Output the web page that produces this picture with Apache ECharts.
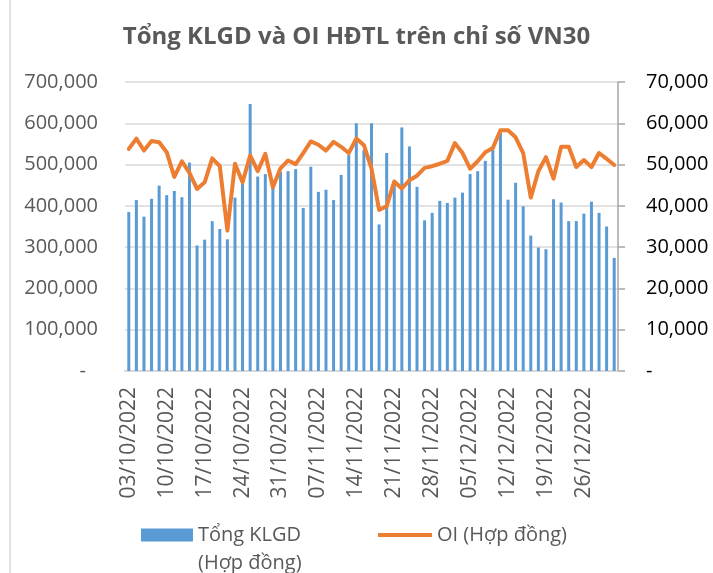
<!DOCTYPE html>
<html>
<head>
<meta charset="utf-8">
<script src="https://cdn.jsdelivr.net/npm/echarts@6/dist/echarts.min.js"></script>
<style>
html,body{margin:0;padding:0;background:#fff;}
#chart{width:713px;height:573px;}
</style>
</head>
<body>
<div id="chart"></div>
<script>
const titleText = 'Tổng KLGD và OI HĐTL trên chỉ số VN30';
const barName = 'Tổng KLGD (Hợp đồng)';
const lineName = 'OI (Hợp đồng)';

const dates = [
 '03/10/2022','04/10/2022','05/10/2022','06/10/2022','07/10/2022',
 '10/10/2022','11/10/2022','12/10/2022','13/10/2022','14/10/2022',
 '17/10/2022','18/10/2022','19/10/2022','20/10/2022','21/10/2022',
 '24/10/2022','25/10/2022','26/10/2022','27/10/2022','28/10/2022',
 '31/10/2022','01/11/2022','02/11/2022','03/11/2022','04/11/2022',
 '07/11/2022','08/11/2022','09/11/2022','10/11/2022','11/11/2022',
 '14/11/2022','15/11/2022','16/11/2022','17/11/2022','18/11/2022',
 '21/11/2022','22/11/2022','23/11/2022','24/11/2022','25/11/2022',
 '28/11/2022','29/11/2022','30/11/2022','01/12/2022','02/12/2022',
 '05/12/2022','06/12/2022','07/12/2022','08/12/2022','09/12/2022',
 '12/12/2022','13/12/2022','14/12/2022','15/12/2022','16/12/2022',
 '19/12/2022','20/12/2022','21/12/2022','22/12/2022','23/12/2022',
 '26/12/2022','27/12/2022','28/12/2022','29/12/2022','30/12/2022'
];

const klgd = [
 385000,414000,374000,417000,449000,
 426000,436000,421000,505000,304000,
 318000,363000,344000,319000,420000,
 454000,647000,471000,477000,445000,
 482000,484000,489000,395000,495000,
 434000,439000,414000,475000,523000,
 600000,535000,600000,355000,528000,
 460000,590000,544000,446000,365000,
 383000,412000,407000,420000,432000,
 477000,484000,509000,536000,577000,
 415000,456000,399000,328000,299000,
 295000,416000,408000,363000,363000,
 381000,410000,383000,350000,274000
];

const oi = [
 53800,56300,53400,55700,55400,
 53000,47000,50800,48000,44100,
 45700,51500,49600,34000,50200,
 45700,52200,48400,52600,44500,
 49100,51000,50100,52800,55600,
 54800,53400,55500,54300,52800,
 56300,54700,49000,39000,39900,
 45900,44200,46200,47300,49200,
 49600,50200,50900,55200,52800,
 49000,50800,53000,54000,58300,
 58300,56600,52800,42000,48400,
 51800,46600,54300,54300,49400,
 51100,49400,52800,51400,49900
];

const fmt = v => v === 0 ? '-' : v.toLocaleString('en-US');
const FONT = '"Open Sans", "Noto Sans", sans-serif';

const chart = echarts.init(document.getElementById('chart'), null, {renderer: 'canvas'});
chart.setOption({
  animation: false,
  backgroundColor: '#fff',
  title: {
    text: titleText,
    left: 'center',
    top: 20,
    textStyle: {fontFamily: FONT, fontSize: 24, fontWeight: 'bold', color: '#595959'}
  },
  legend: [{
    data: [{name: barName, icon: 'rect'}],
    left: 141, top: 493, padding: 0,
    itemWidth: 52, itemHeight: 13,
    formatter: () => ' \nTổng KLGD\n(Hợp đồng)',
    textStyle: {fontFamily: FONT, fontSize: 20, color: '#595959', lineHeight: 28}
  }, {
    data: [{name: lineName, icon: 'rect'}],
    left: 378, top: 521, padding: 0,
    itemWidth: 54, itemHeight: 4,
    itemStyle: {color: '#ED7D31'},
    textStyle: {fontFamily: FONT, fontSize: 20, color: '#595959', lineHeight: 28}
  }],
  graphic: [{
    type: 'line', shape: {x1: 10, y1: 0, x2: 10, y2: 573},
    style: {stroke: '#d9d9d9', lineWidth: 1.5}
  }],
  grid: {left: 125, right: 95, top: 82, bottom: 202, containLabel: false},
  xAxis: {
    type: 'category',
    data: dates,
    boundaryGap: true,
    axisLine: {lineStyle: {color: '#d9d9d9', width: 2}},
    axisTick: {show: false},
    axisLabel: {interval: 4, rotate: 90, margin: 16, fontFamily: FONT, fontSize: 21, color: '#595959'}
  },
  yAxis: [{
    type: 'value', min: 0, max: 700000, interval: 100000,
    axisLine: {show: false}, axisTick: {show: false},
    splitLine: {lineStyle: {color: '#d9d9d9', width: 1.5}},
    axisLabel: {
      margin: 27, fontFamily: FONT, fontSize: 20, color: '#595959',
      formatter: v => v === 0 ? '{d|-}' : fmt(v),
      rich: {d: {fontFamily: FONT, fontSize: 20, color: '#595959', padding: [0, 12, 0, 0]}}
    }
  }, {
    type: 'value', min: 0, max: 70000, interval: 10000, position: 'right',
    axisLine: {show: true, lineStyle: {color: '#a6a6a6', width: 1.5}},
    axisTick: {show: true, length: 7, lineStyle: {color: '#a6a6a6', width: 1.5}},
    splitLine: {show: false},
    axisLabel: {margin: 28, fontFamily: FONT, fontSize: 20, color: '#000', formatter: fmt}
  }],
  series: [{
    name: barName,
    type: 'bar',
    data: klgd,
    barWidth: 3,
    itemStyle: {color: '#5B9BD5'}
  }, {
    name: lineName,
    type: 'line',
    yAxisIndex: 1,
    data: oi,
    symbol: 'none',
    lineStyle: {color: '#ED7D31', width: 4, join: 'round', cap: 'round'},
    itemStyle: {color: '#ED7D31'}
  }]
});
</script>
</body>
</html>
